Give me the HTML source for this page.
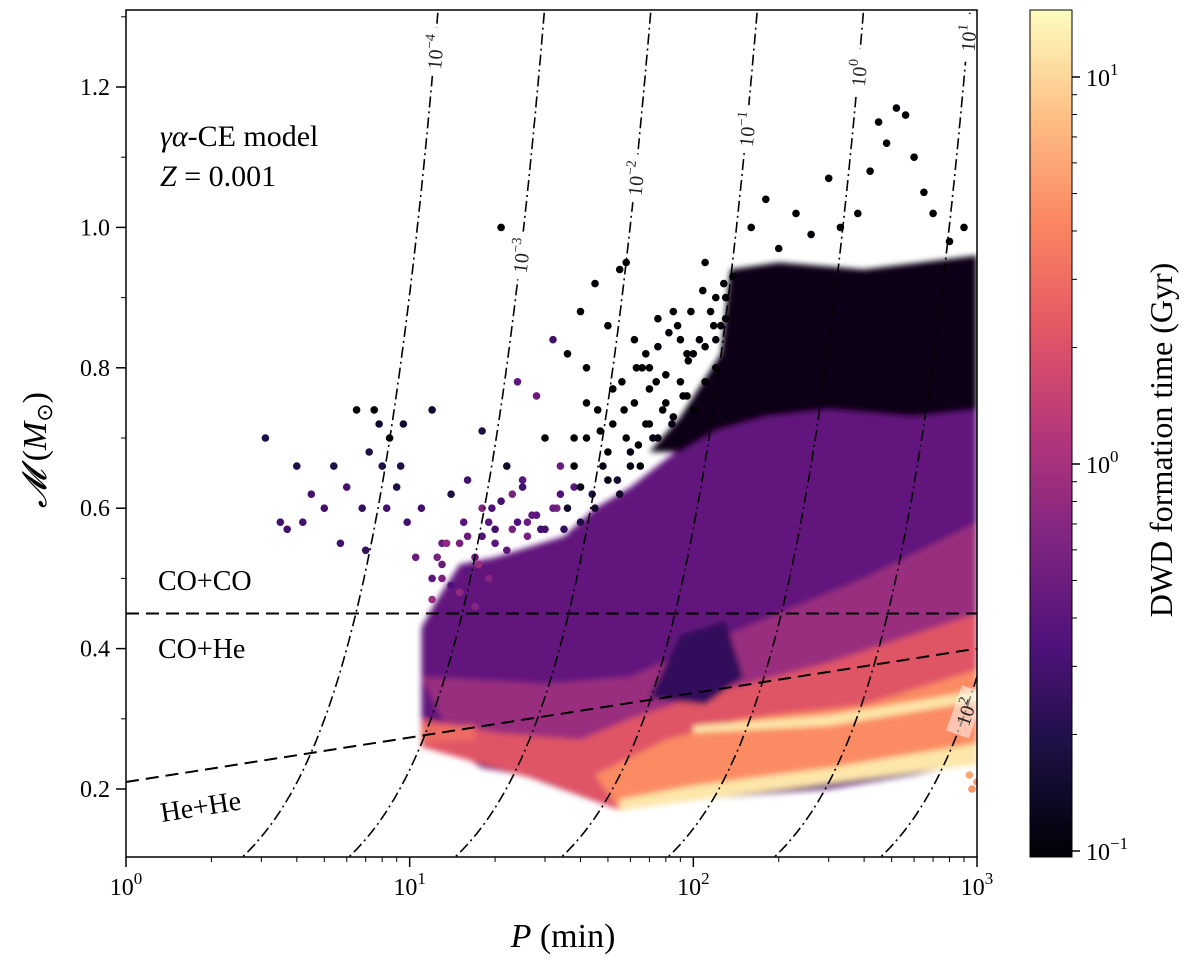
<!DOCTYPE html>
<html><head><meta charset="utf-8">
<style>
html,body{margin:0;padding:0;background:#fff;}
svg{display:block;font-family:"Liberation Serif",serif;}
</style></head>
<body>
<svg id="chart" width="1200" height="964" viewBox="0 0 1200 964" xmlns="http://www.w3.org/2000/svg">
<defs>
<filter id="soft" x="-5%" y="-5%" width="110%" height="110%"><feGaussianBlur stdDeviation="3"/></filter>
<clipPath id="plotclip"><rect x="126" y="10" width="851" height="847"/></clipPath>
<linearGradient id="magma" x1="0" y1="1" x2="0" y2="0">
<stop offset="0" stop-color="#000004"/><stop offset="0.13" stop-color="#1c1044"/><stop offset="0.25" stop-color="#4f127b"/><stop offset="0.38" stop-color="#812581"/><stop offset="0.5" stop-color="#b5367a"/><stop offset="0.63" stop-color="#e55964"/><stop offset="0.75" stop-color="#fb8761"/><stop offset="0.88" stop-color="#fec287"/><stop offset="1" stop-color="#fcfdbf"/>
</linearGradient>
</defs>
<g id="regions" clip-path="url(#plotclip)" filter="url(#soft)"></g>
<g id="dots" clip-path="url(#plotclip)"></g>
<g id="lines" clip-path="url(#plotclip)"></g>
<g id="axes"></g>
<text x="160" y="146" font-size="30"><tspan font-style="italic">γα</tspan>-CE model</text>
<text x="160" y="186" font-size="30"><tspan font-style="italic">Z</tspan> = 0.001</text>
<text x="158" y="590" font-size="28">CO+CO</text>
<text x="158" y="658" font-size="28">CO+He</text>
<text x="0" y="0" font-size="28" transform="translate(162,822) rotate(-9)">He+He</text>
<text x="563" y="947" font-size="34" text-anchor="middle"><tspan font-style="italic">P</tspan> (min)</text>
<text x="0" y="0" font-size="34" text-anchor="middle" transform="translate(46,450) rotate(-90)"><tspan font-style="italic">𝓜</tspan> (<tspan font-style="italic">M</tspan><tspan font-size="22" dy="6">⊙</tspan><tspan dy="-6">)</tspan></text>
<rect x="1030" y="10" width="42" height="847" fill="url(#magma)" stroke="#000" stroke-width="1"/>
<g id="cbticks"></g>
<text x="0" y="0" font-size="32" text-anchor="middle" transform="translate(1172,440) rotate(-90)">DWD formation time (Gyr)</text>
</svg>
<script>
const NS="http://www.w3.org/2000/svg";
// ---- data ----
const xTickExps=[0,1,2,3];
const yTicks=[0.2,0.4,0.6,0.8,1.0,1.2];
const yMinor=[0.1,0.3,0.5,0.7,0.9,1.1,1.3];
const cbTickExps=[-1,0,1];
const contourExps=[-4,-3,-2,-1,0,1,2];
const contourLogP0=[1.027,1.402,1.777,2.152,2.527,2.902,3.277];
const contourLabelM=[1.25,0.96,1.07,1.14,1.22,1.27,0.31];
const boundaryCO=[0.45,0.45];
const boundaryHe=[0.21,0.40];
// density regions: [P, M] vertices and formation time (Gyr)
const regionTimes=[0.45,0.12,0.9,2.2,4.5,0.25,3.0,12,12];
const regionShapes=[
 [[11,0.26],[11,0.43],[12.5,0.47],[15,0.52],[20,0.53],[35,0.56],[45,0.60],[60,0.63],[80,0.67],[110,0.71],[150,0.76],[200,0.80],[300,0.83],[500,0.87],[1000,0.90],[1000,0.24],[600,0.22],[300,0.20],[100,0.185],[55,0.17],[45,0.2],[30,0.21],[25,0.22],[18,0.23],[15,0.25]],
 [[70,0.68],[90,0.73],[125,0.82],[135,0.94],[200,0.95],[400,0.94],[1000,0.96],[1000,0.74],[600,0.73],[300,0.74],[180,0.73],[120,0.71],[90,0.68]],
 [[15,0.25],[11,0.36],[30,0.35],[60,0.36],[100,0.40],[200,0.45],[400,0.50],[1000,0.58],[1000,0.24],[55,0.17],[25,0.22]],
 [[11,0.26],[11,0.30],[20,0.28],[40,0.27],[60,0.30],[100,0.33],[300,0.38],[1000,0.45],[1000,0.24],[55,0.17],[30,0.21],[20,0.23]],
 [[45,0.22],[80,0.27],[150,0.30],[400,0.32],[1000,0.37],[1000,0.24],[55,0.17]],
 [[70,0.33],[90,0.42],[130,0.44],[150,0.36],[110,0.32]],
 [[11,0.265],[11,0.29],[17,0.29],[17,0.27]],
 [[100,0.29],[300,0.305],[1000,0.34],[1000,0.325],[300,0.29],[100,0.28]],
 [[55,0.17],[1000,0.235],[1000,0.265],[300,0.23],[100,0.205],[55,0.185]]
];
// individual scattered points: P, M, t
const ptP=[3.1,3.5,3.7,4.0,4.2,4.5,5,5.4,5.7,6,6.5,6.8,7,7.2,7.5,7.8,8,8.3,8.5,9,9.3,9.5,9.8,10.5,11,12,12.5,13,14,16,18,19,21,22,24,25,28,30,32,34,36,40,42,45,50,55,58,62,70,75,85,95,110,120,160,180,200,230,260,300,330,380,420,450,480,520,560,600,650,700,800,900,1000,960,940,16,18,20,23,26,29,33,38,15,17,13,12,
 36,38,40,42,44,46,48,50,52,54,56,58,60,62,64,66,68,70,72,75,78,80,84,88,92,96,100,105,110,115,120,125,130,40,45,50,55,60,65,70,75,80,85,90,95,100,110,120,130,35,38,42,47,52,57,63,68,74,82,90,98,108,118,128,138,
 12,13,14,15,16,17,18,19,20,22,24,26,28,30,32,34,13.5,15.5,17.5,19.5,21,23,25,27];
const ptM=[0.70,0.58,0.57,0.66,0.58,0.62,0.60,0.66,0.55,0.63,0.74,0.60,0.54,0.68,0.74,0.72,0.66,0.60,0.70,0.63,0.66,0.72,0.58,0.53,0.60,0.74,0.53,0.50,0.62,0.64,0.71,0.58,1.00,0.66,0.78,0.64,0.76,0.70,0.84,0.66,0.82,0.88,0.80,0.92,0.86,0.94,0.95,0.84,0.80,0.87,0.88,0.82,0.95,0.90,1.00,1.04,0.97,1.02,0.99,1.07,1.00,1.02,1.08,1.15,1.12,1.17,1.16,1.10,1.05,1.02,0.98,1.00,0.21,0.20,0.22,0.56,0.60,0.55,0.62,0.58,0.57,0.60,0.63,0.48,0.46,0.55,0.47,
 0.60,0.66,0.63,0.70,0.62,0.74,0.66,0.68,0.72,0.64,0.78,0.70,0.66,0.75,0.69,0.80,0.72,0.77,0.70,0.83,0.74,0.79,0.72,0.86,0.76,0.81,0.74,0.84,0.78,0.88,0.80,0.86,0.90,0.58,0.60,0.64,0.62,0.68,0.66,0.72,0.70,0.75,0.73,0.78,0.76,0.82,0.83,0.84,0.87,0.57,0.70,0.75,0.71,0.77,0.74,0.80,0.82,0.78,0.85,0.84,0.88,0.91,0.86,0.92,0.93,
 0.50,0.52,0.49,0.55,0.51,0.53,0.56,0.50,0.57,0.54,0.58,0.56,0.59,0.57,0.60,0.62,0.55,0.58,0.52,0.60,0.61,0.57,0.63,0.59];
const ptT=[0.2,0.3,0.3,0.2,0.3,0.3,0.3,0.2,0.3,0.3,0.1,0.25,0.25,0.2,0.1,0.15,0.2,0.3,0.1,0.2,0.2,0.15,0.3,0.5,0.3,0.15,0.6,0.6,0.2,0.3,0.2,0.4,0.1,0.15,0.4,0.4,0.5,0.1,0.3,0.5,0.1,0.1,0.1,0.1,0.1,0.1,0.1,0.1,0.1,0.1,0.1,0.1,0.1,0.1,0.1,0.1,0.1,0.1,0.1,0.1,0.1,0.1,0.1,0.1,0.1,0.1,0.1,0.1,0.1,0.1,0.1,0.1,5,5,6,0.5,0.7,0.4,0.6,0.5,0.3,0.6,0.4,0.8,0.7,0.5,0.9,
 0.15,0.1,0.12,0.1,0.2,0.1,0.12,0.1,0.1,0.15,0.1,0.1,0.12,0.1,0.1,0.1,0.1,0.1,0.12,0.1,0.1,0.1,0.12,0.1,0.1,0.1,0.1,0.1,0.1,0.1,0.1,0.1,0.1,0.2,0.15,0.12,0.15,0.12,0.1,0.1,0.12,0.1,0.1,0.1,0.1,0.1,0.1,0.1,0.1,0.25,0.1,0.1,0.1,0.1,0.1,0.1,0.1,0.1,0.1,0.1,0.1,0.1,0.1,0.1,0.1,
 0.4,0.5,0.35,0.6,0.4,0.5,0.35,0.7,0.3,0.45,0.35,0.6,0.4,0.3,0.5,0.35,0.8,0.4,0.9,0.35,0.3,0.6,0.3,0.45];
// ---- scales ----
const X0=126,X1=977,Y0=10,Y1=857;
function xs(P){return X0+283.67*Math.log10(P);}
function ys(M){return 789-702*(M-0.2);}
function cy(t){return 851-387*(Math.log10(t)+1);}
const stops=[[0,[0,0,4]],[0.13,[28,16,68]],[0.25,[79,18,123]],[0.38,[129,37,129]],[0.5,[181,54,122]],[0.63,[229,89,100]],[0.75,[251,135,97]],[0.88,[254,194,135]],[1,[252,253,191]]];
function cmap(t){let f=(Math.log10(t)+1)/2.18;f=Math.max(0,Math.min(1,f));
 for(let i=1;i<stops.length;i++){if(f<=stops[i][0]){const a=stops[i-1],b=stops[i];const u=(f-a[0])/(b[0]-a[0]);
 return 'rgb('+a[1].map((v,k)=>Math.round(v+(b[1][k]-v)*u)).join(',')+')';}}return 'rgb(252,253,191)';}
function mk(tag,attrs,parent){const e=document.createElementNS(NS,tag);for(const k in attrs)e.setAttribute(k,attrs[k]);parent.appendChild(e);return e;}
const regions=document.getElementById('regions');
regionShapes.forEach((sh,i)=>{
 const d='M'+sh.map(p=>xs(p[0]).toFixed(1)+','+ys(p[1]).toFixed(1)).join('L')+'Z';
 const e=mk('path',{d:d,fill:cmap(regionTimes[i])},regions);
 
 
});
const dots=document.getElementById('dots');
ptP.forEach((p,i)=>{
 const c=mk('circle',{cx:xs(p).toFixed(1),cy:ys(ptM[i]).toFixed(1),r:3.8,fill:cmap(ptT[i])},dots);
 
 
});
const lines=document.getElementById('lines');
contourExps.forEach((k,i)=>{
 let pts=[];for(let M=0.09;M<=1.32;M+=0.005){pts.push([xs(Math.pow(10,contourLogP0[i]+0.625*Math.log10(M))),ys(M)]);}
 const pl=mk('polyline',{points:pts.map(p=>p[0].toFixed(1)+','+p[1].toFixed(1)).join(' '),fill:'none',stroke:'#000','stroke-width':1.6,'stroke-dasharray':'11 4 2 4'},lines);
 
 
 const M=contourLabelM[i];const lx=xs(Math.pow(10,contourLogP0[i]+0.625*Math.log10(M))),ly=ys(M);
 const lx2=xs(Math.pow(10,contourLogP0[i]+0.625*Math.log10(M+0.01))),ly2=ys(M+0.01);
 const ang=Math.atan2(ly2-ly,lx2-lx)*180/Math.PI;
 const g=mk('g',{transform:'translate('+lx.toFixed(1)+','+ly.toFixed(1)+') rotate('+ang.toFixed(1)+')'},lines);
 mk('rect',{x:-24,y:-12,width:48,height:24,fill:'#fff',opacity:k===2?0.5:1},g);
 const t=mk('text',{x:0,y:8,'font-size':20,'text-anchor':'middle',fill:'#222'},g);
 
 
 t.textContent='10';const s=mk('tspan',{dy:-9,'font-size':14},t);s.textContent=(k<0?'−':'')+Math.abs(k);
});
const b1=mk('line',{x1:X0,y1:ys(boundaryCO[0]),x2:X1,y2:ys(boundaryCO[1]),stroke:'#000','stroke-width':2,'stroke-dasharray':'13 7'},lines);


const b2=mk('line',{x1:X0,y1:ys(boundaryHe[0]),x2:X1,y2:ys(boundaryHe[1]),stroke:'#000','stroke-width':2,'stroke-dasharray':'13 7'},lines);


const axes=document.getElementById('axes');
const frame=mk('rect',{x:X0,y:Y0,width:X1-X0,height:Y1-Y0,fill:'none',stroke:'#000','stroke-width':1.5},axes);


xTickExps.forEach(e=>{const x=xs(Math.pow(10,e));
 mk('line',{x1:x,y1:Y1,x2:x,y2:Y1+10,stroke:'#000','stroke-width':1.5},axes);
 const t=mk('text',{x:x,y:Y1+38,'font-size':24,'text-anchor':'middle'},axes);
 
 
 t.textContent='10';const s=mk('tspan',{dy:-11,'font-size':17},t);s.textContent=String(e);
 if(e<3){for(let m=2;m<10;m++){const xm=xs(m*Math.pow(10,e));mk('line',{x1:xm,y1:Y1,x2:xm,y2:Y1+5,stroke:'#000','stroke-width':1},axes);}}
});
yTicks.forEach(v=>{const y=ys(v);
 mk('line',{x1:X0-10,y1:y,x2:X0,y2:y,stroke:'#000','stroke-width':1.5},axes);
 const t=mk('text',{x:X0-16,y:y+8,'font-size':24,'text-anchor':'end'},axes);
 
 
 t.textContent=v.toFixed(1);
});
yMinor.forEach(v=>{const y=ys(v);if(y>=Y0&&y<=Y1)mk('line',{x1:X0-5,y1:y,x2:X0,y2:y,stroke:'#000','stroke-width':1},axes);});
const cb=document.getElementById('cbticks');
cbTickExps.forEach(e=>{const y=cy(Math.pow(10,e));
 mk('line',{x1:1072,y1:y,x2:1080,y2:y,stroke:'#000','stroke-width':1.5},cb);
 const t=mk('text',{x:1086,y:y+9,'font-size':24},cb);
 
 
 t.textContent='10';const s=mk('tspan',{dy:-11,'font-size':17},t);s.textContent=(e<0?'−':'')+Math.abs(e);
 if(e<1){for(let m=2;m<10;m++){const ym=cy(m*Math.pow(10,e));mk('line',{x1:1072,y1:ym,x2:1077,y2:ym,stroke:'#000','stroke-width':1},cb);}}
});
</script>
</body></html>
